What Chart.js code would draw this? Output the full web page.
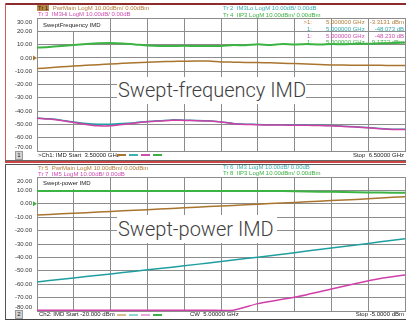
<!DOCTYPE html>
<html>
<head>
<meta charset="utf-8">
<script src="https://cdn.jsdelivr.net/npm/chart.js@4.4.1/dist/chart.umd.min.js"></script>
<style>
  html, body { margin: 0; padding: 0; background: #fff; }
  body { width: 406px; height: 321px; position: relative; overflow: hidden;
         font-family: "Liberation Sans", Arial, sans-serif; }
  canvas { position: absolute; left: 0; }
  .t { position: absolute; white-space: nowrap; font-size: 6px; line-height: 7px; }
  .r { text-align: right; }
  .line { position: absolute; }
  .box { position: absolute; background: #fff; white-space: nowrap; }
  .big { font-family: Roboto, "Open Sans", sans-serif; font-weight: 300; font-size: 20px; color: #3e3e3e; }
  .num { position: absolute; width: 6px; height: 7px; background: #d2d2d2; border: 1px solid #9a9a9a;
         font-size: 6px; line-height: 7px; text-align: center; color: #222; }
  .dash { position: absolute; height: 2px; width: 9px; }
</style>
</head>
<body>
<canvas id="sweptFreq" width="406" height="163" style="top:0"></canvas>
<canvas id="sweptPower" width="406" height="158" style="top:163px"></canvas>

<!-- panel frames -->
<div class="line" style="left:5px;top:3px;width:401px;height:2px;background:#8c2c2c"></div>
<div class="line" style="left:5px;top:3px;width:1px;height:159px;background:#d45a5a"></div>
<div class="line" style="left:5px;top:160px;width:401px;height:1px;background:#666"></div>
<div class="line" style="left:5px;top:161px;width:401px;height:2px;background:#cc4444"></div>
<div class="line" style="left:5px;top:164px;width:401px;height:1px;background:#555"></div>
<div class="line" style="left:5px;top:164px;width:1px;height:156px;background:#555"></div>
<div class="line" style="left:5px;top:319px;width:401px;height:1px;background:#444"></div>

<!-- top panel header -->
<div class="t" style="left:37px;top:5px;color:#b07d3a"><span style="background:#b8894a;color:#3a2500;padding:0 1px">Tr 1</span>&nbsp; PwrMain LogM 10.00dBm/ 0.00dBm</div>
<div class="t" style="left:38px;top:11px;color:#d04db0">Tr 3&nbsp; IM3Hi LogM 10.00dB/ 0.00dB</div>
<div class="t" style="left:223px;top:4.5px;color:#3ab0b0">Tr 2&nbsp; IM3Lo LogM 10.00dB/ 0.00dB</div>
<div class="t" style="left:223px;top:11.5px;color:#3cb043">Tr 4&nbsp; IIP3 LogM 10.00dBm/ 0.00dBm</div>

<div class="box t" style="left:38px;top:19px;width:72px;height:12px;line-height:12px;color:#222"><span style="padding-left:5px">SweptFrequency IMD</span></div>

<!-- marker readout -->
<div class="t r" style="left:290px;width:22px;top:19px;color:#b07d3a">&gt;1:</div>
<div class="t" style="left:326px;top:19px;color:#b07d3a">5.000000 GHz</div>
<div class="t r" style="left:354px;width:50px;top:19px;color:#b07d3a">-3.3131 dBm</div>
<div class="t r" style="left:290px;width:22px;top:25.8px;color:#30a8a8">1:</div>
<div class="t" style="left:326px;top:25.8px;color:#30a8a8">5.000000 GHz</div>
<div class="t r" style="left:354px;width:50px;top:25.8px;color:#30a8a8">-48.073 dB</div>
<div class="t r" style="left:290px;width:22px;top:32.5px;color:#d04db0">1:</div>
<div class="t" style="left:326px;top:32.5px;color:#d04db0">5.000000 GHz</div>
<div class="t r" style="left:354px;width:50px;top:32.5px;color:#d04db0">-48.230 dB</div>
<div class="t r" style="left:290px;width:22px;top:39.2px;color:#3cb043">1:</div>
<div class="t" style="left:326px;top:39.2px;color:#3cb043">5.000000 GHz</div>
<div class="t r" style="left:354px;width:50px;top:39.2px;color:#3cb043">9.1722 dBm</div>

<div class="box big" style="left:117px;top:77px;width:188px;height:27px;line-height:27px;padding-left:1px">Swept-frequency IMD</div>

<!-- top status -->
<div class="num" style="left:15px;top:151px">1</div>
<div class="t" style="left:38px;top:151.5px;color:#222">&gt;Ch1: IMD Start&nbsp; 3.50000 GHz</div>
<div class="dash" style="left:117px;top:154px;background:#a8742e"></div>
<div class="dash" style="left:129px;top:154px;background:#3ab0b0"></div>
<div class="dash" style="left:141px;top:154px;background:#d04db0"></div>
<div class="dash" style="left:153px;top:154px;background:#3cb043"></div>
<div class="t r" style="left:300px;width:104px;top:151.5px;color:#222">Stop&nbsp; 6.50000 GHz</div>

<!-- lower panel header -->
<div class="t" style="left:38px;top:164.5px;color:#b07d3a">Tr 5&nbsp; PwrMain LogM 10.00dBm/ 0.00dBm</div>
<div class="t" style="left:38px;top:170.5px;color:#d04db0">Tr 7&nbsp; IM5 LogM 10.00dB/ 0.00dB</div>
<div class="t" style="left:223px;top:164px;color:#3ab0b0">Tr 6&nbsp; IM3 LogM 10.00dB/ 0.00dB</div>
<div class="t" style="left:223px;top:170px;color:#3cb043">Tr 8&nbsp; IIP3 LogM 10.00dBm/ 0.00dBm</div>

<div class="box t" style="left:38px;top:178px;width:72px;height:11px;line-height:11px;color:#222"><span style="padding-left:5px">Swept-power IMD</span></div>

<div class="box big" style="left:117px;top:215px;width:159px;height:28px;line-height:28px;padding-left:1px">Swept-power IMD</div>

<!-- lower status -->
<div class="num" style="left:15px;top:310px">2</div>
<div class="t" style="left:39px;top:311px;color:#222">Ch2: IMD Start -20.000 dBm</div>
<div class="dash" style="left:117px;top:314px;background:#d8bc90"></div>
<div class="dash" style="left:129px;top:314px;background:#90d4d4"></div>
<div class="dash" style="left:141px;top:314px;background:#e6a8d8"></div>
<div class="dash" style="left:153px;top:314px;background:#3cb043"></div>
<div class="t" style="left:190px;top:311px;color:#222">CW&nbsp; 5.00000 GHz</div>
<div class="t r" style="left:300px;width:104px;top:311px;color:#222">Stop -5.0000 dBm</div>

<script>
// swept-frequency panel (GHz / dB)
const freqGHz = [3.5, 3.6, 3.7, 3.8, 3.9, 4.0, 4.1, 4.2, 4.3, 4.4, 4.5, 4.6, 4.7, 4.8, 4.9, 5.0,
                 5.1, 5.2, 5.3, 5.4, 5.5, 5.6, 5.7, 5.8, 5.9, 6.0, 6.1, 6.2, 6.3, 6.4, 6.5];
const pwrMainFreq = [-8.0, -7.4, -6.7, -6.1, -5.6, -5.1, -4.6, -4.1, -3.6, -3.2, -2.9, -2.7, -2.5, -2.3, -2.4, -3.0,
                     -3.2, -3.4, -3.5, -3.7, -4.0, -4.3, -4.6, -5.0, -5.3, -5.4, -5.5, -5.6, -5.6, -5.7, -5.8];
const im3LoFreq = [-45.2, -45.8, -46.8, -48.2, -49.3, -49.8, -49.8, -49.3, -48.7, -47.8, -47.3, -46.6, -46.8, -47.0, -47.3, -48.1,
                   -49.3, -49.8, -50.1, -50.3, -50.3, -50.4, -50.5, -50.6, -50.8, -51.3, -51.8, -52.3, -53.1, -53.6, -53.6];
const im3HiFreq = [-45.4, -46.0, -47.0, -48.5, -50.0, -51.0, -51.0, -50.0, -49.0, -48.0, -47.5, -46.8, -47.0, -47.2, -47.5, -48.2,
                   -49.5, -50.0, -50.3, -50.5, -50.5, -50.6, -50.7, -50.8, -51.0, -51.5, -52.0, -52.5, -53.3, -53.8, -53.8];
const iip3Freq = [7.8, 8.2, 8.9, 9.7, 10.4, 11.0, 11.2, 10.8, 10.1, 9.3, 8.9, 8.9, 9.1, 8.9, 8.9, 8.9,
                  9.7, 9.5, 10.2, 9.7, 10.4, 10.0, 10.4, 10.0, 10.4, 10.3, 10.7, 10.6, 11.0, 11.2, 11.6];
const freqGrid = [3.5, 3.8, 4.1, 4.4, 4.7, 5.0, 5.3, 5.6, 5.9, 6.2, 6.5];
const freqYTicks = [-70, -60, -50, -40, -30, -20, -10, 0, 10, 20, 30];
const freqYLabels = ['-70.00', '-60.00', '-50.00', '-40.00', '-30.00', '-20.00', '-10.00', '0.00', '10.00', '20.00', '30.00'];

// swept-power panel (dBm / dB)
const inputDbm = [-20, -19, -18, -17, -16, -15, -14, -13, -12, -11, -10, -9, -8, -7, -6, -5];
const pwrMainPow = [-8.4, -7.5, -6.6, -5.7, -4.8, -3.9, -3.0, -2.1, -1.2, -0.3, 0.6, 1.5, 2.4, 3.3, 4.3, 5.3];
const im3Pow = [-58.3, -56.3, -54.3, -52.3, -50.3, -48.3, -46.3, -44.1, -42.0, -39.8, -37.6, -35.3, -33.0, -30.7, -28.4, -26.0];
const im5Pow = [-79.4, -79.4, -79.4, -79.4, -79.4, -79.4, -79.4, -79.4, -79.4, -74.5, -71.3, -67.8, -63.6, -59.5, -55.8, -53.1];
const iip3Pow = [9.6, 9.6, 9.6, 9.6, 9.6, 9.6, 9.6, 9.6, 9.6, 9.6, 9.6, 9.1, 8.9, 8.6, 8.4, 8.2];
const powGrid = [-20, -18.5, -17, -15.5, -14, -12.5, -11, -9.5, -8, -6.5, -5];
const powYTicks = [-80, -70, -60, -50, -40, -30, -20, -10, 0, 10, 20];
const powYLabels = ['-80.00', '-70.00', '-60.00', '-50.00', '-40.00', '-30.00', '-20.00', '-10.00', '0.00', '10.00', '20.00'];

const GRID = '#8c8c8c';
const FONT = '"Liberation Sans", Arial, sans-serif';
const BROWN = '#a8742e', TEAL = '#1f9f9f', MAGENTA = '#d040a8', GREEN = '#3cb443';

function pts(xs, ys) {
    return xs.map((x, i) => ({ x: x, y: ys[i] }));
}

function trace(data, color, width) {
    return { data: data, borderColor: color, borderWidth: width || 1.5, pointRadius: 0, tension: 0.2, fill: false };
}

// first and last y labels sit inside the grid, like on the analyzer screen
const edgeLabels = {
    id: 'edgeLabels',
    afterDraw(chart, args, opts) {
        const ctx = chart.ctx;
        const y = chart.scales.y;
        ctx.save();
        ctx.font = '6px ' + FONT;
        ctx.fillStyle = '#333';
        ctx.textAlign = 'right';
        ctx.textBaseline = 'middle';
        ctx.fillText(opts.labels[opts.labels.length - 1], y.right - 5, y.getPixelForValue(y.max) + 4);
        ctx.fillText(opts.labels[0], y.right - 5, y.getPixelForValue(y.min) - 4);
        const ry = y.getPixelForValue(0);
        ctx.fillStyle = opts.refColor;
        ctx.beginPath();
        ctx.moveTo(y.right - 4, ry - 2.5);
        ctx.lineTo(y.right, ry);
        ctx.lineTo(y.right - 4, ry + 2.5);
        ctx.fill();
        ctx.restore();
    }
};

function scales(xMin, xMax, xGrid, yTicks, yLabels) {
    return {
        x: {
            type: 'linear', min: xMin, max: xMax,
            afterBuildTicks: s => { s.ticks = xGrid.map(v => ({ value: v })); },
            afterFit: s => { s.height = 0; },
            ticks: { display: false },
            grid: { color: GRID, drawTicks: false },
            border: { color: GRID }
        },
        y: {
            min: yTicks[0], max: yTicks[yTicks.length - 1],
            afterBuildTicks: s => { s.ticks = yTicks.map(v => ({ value: v })); },
            afterFit: s => { s.width = 37; },
            ticks: {
                autoSkip: false, padding: 5, color: '#333', font: { size: 6, family: FONT },
                callback: (v, i) => (i === 0 || i === yLabels.length - 1) ? '' : yLabels[i]
            },
            grid: { color: GRID, drawTicks: false },
            border: { color: GRID }
        }
    };
}

new Chart(document.getElementById('sweptFreq').getContext('2d'), {
    type: 'line',
    data: {
        datasets: [
            trace(pts(freqGHz, im3HiFreq), MAGENTA),
            trace(pts(freqGHz, im3LoFreq), TEAL),
            trace(pts(freqGHz, iip3Freq), GREEN, 2),
            trace(pts(freqGHz, pwrMainFreq), BROWN)
        ]
    },
    options: {
        responsive: false,
        animation: false,
        layout: { padding: { left: 0, top: 18, right: 1, bottom: 12 } },
        plugins: {
            legend: { display: false },
            tooltip: { enabled: false },
            edgeLabels: { labels: freqYLabels, refColor: BROWN }
        },
        scales: scales(3.5, 6.5, freqGrid, freqYTicks, freqYLabels)
    },
    plugins: [edgeLabels]
});

new Chart(document.getElementById('sweptPower').getContext('2d'), {
    type: 'line',
    data: {
        datasets: [
            trace(pts(inputDbm, im5Pow), MAGENTA),
            trace(pts(inputDbm, im3Pow), TEAL),
            trace(pts(inputDbm, iip3Pow), GREEN, 2),
            trace(pts(inputDbm, pwrMainPow), BROWN)
        ]
    },
    options: {
        responsive: false,
        animation: false,
        layout: { padding: { left: 0, top: 14, right: 1, bottom: 10 } },
        plugins: {
            legend: { display: false },
            tooltip: { enabled: false },
            edgeLabels: { labels: powYLabels, refColor: GREEN }
        },
        scales: scales(-20, -5, powGrid, powYTicks, powYLabels)
    },
    plugins: [edgeLabels]
});
</script>
</body>
</html>
